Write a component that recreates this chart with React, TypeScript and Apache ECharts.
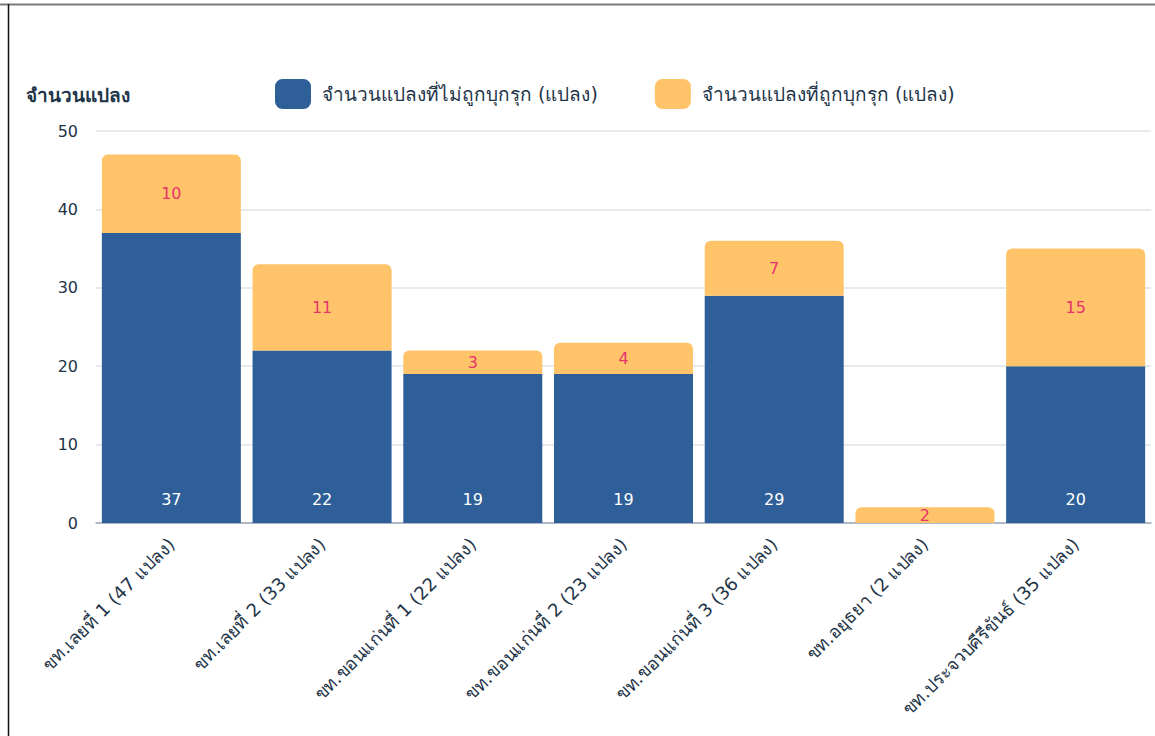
import React, { useEffect, useRef } from "react";
import * as echarts from "echarts";

const categories = [
  "ขท.เลยที่ 1 (47 แปลง)",
  "ขท.เลยที่ 2 (33 แปลง)",
  "ขท.ขอนแก่นที่ 1 (22 แปลง)",
  "ขท.ขอนแก่นที่ 2 (23 แปลง)",
  "ขท.ขอนแก่นที่ 3 (36 แปลง)",
  "ขท.อยุธยา (2 แปลง)",
  "ขท.ประจวบคีรีขันธ์ (35 แปลง)",
];
const notEncroached = [37, 22, 19, 19, 29, 0, 20];
const encroached = [10, 11, 3, 4, 7, 2, 15];
const seriesNames = ["จำนวนแปลงที่ไม่ถูกบุกรุก (แปลง)", "จำนวนแปลงที่ถูกบุกรุก (แปลง)"];
const yAxisTitle = "จำนวนแปลง";

const FONT = "'DejaVu Sans', sans-serif";
const TEXT = "#1e3448";

export default function App() {
  const ref = useRef<HTMLDivElement>(null);
  useEffect(() => {
    if (!ref.current) return;
    const chart = echarts.init(ref.current, undefined, { renderer: "svg" });
    chart.setOption({
      animation: false,
      textStyle: { fontFamily: FONT },
      title: {
        text: yAxisTitle,
        left: 21,
        top: 80,
        textStyle: { fontSize: 19, fontWeight: "bold", color: TEXT, fontFamily: FONT },
      },
      legend: {
        left: 270,
        top: 74,
        itemWidth: 36,
        itemHeight: 30,
        itemGap: 57,
        icon: "roundRect",
        textStyle: { fontSize: 19, color: TEXT, fontFamily: FONT, padding: [0, 0, 0, 6] },
        data: seriesNames,
      },
      grid: { left: 96, right: 4, top: 131, bottom: 213, containLabel: false },
      xAxis: {
        type: "category",
        data: categories,
        axisTick: { show: false },
        axisLine: { lineStyle: { color: "#9aa8b8", width: 1.5 } },
        axisLabel: {
          rotate: 45,
          interval: 0,
          margin: 18,
          fontSize: 18,
          color: TEXT,
          fontFamily: FONT,
        },
      },
      yAxis: {
        type: "value",
        min: 0,
        max: 50,
        interval: 10,
        axisLine: { show: false },
        axisTick: { show: false },
        axisLabel: { fontSize: 16, color: TEXT, margin: 18, fontFamily: FONT },
        splitLine: { lineStyle: { color: "#dde3ea", width: 1.5 } },
      },
      series: [
        {
          name: seriesNames[0],
          type: "bar",
          stack: "total",
          barWidth: 139,
          data: notEncroached,
          itemStyle: { color: "#2f5f98" },
          label: {
            show: true,
            position: "insideBottom",
            distance: 16,
            fontSize: 16,
            color: "#ffffff",
            fontFamily: FONT,
            formatter: (p: any) => (p.value ? String(p.value) : ""),
          },
        },
        {
          name: seriesNames[1],
          type: "bar",
          stack: "total",
          barWidth: 139,
          data: encroached,
          itemStyle: { color: "#ffc469", borderRadius: [6, 6, 0, 0] },
          label: {
            show: true,
            position: "inside",
            fontSize: 16,
            color: "#e8336b",
            fontFamily: FONT,
          },
        },
      ],
      graphic: [
        {
          type: "line",
          shape: { x1: 0, y1: 4.5, x2: 1155, y2: 4.5 },
          style: { stroke: "#7a7a7a", lineWidth: 2 },
        },
        {
          type: "line",
          shape: { x1: 8.5, y1: 4, x2: 8.5, y2: 736 },
          style: { stroke: "#111111", lineWidth: 1.5 },
        },
      ],
    });
    return () => chart.dispose();
  }, []);
  return (
    <div
      ref={ref}
      style={{ position: "absolute", left: 0, top: 0, width: 1155, height: 736, background: "#fff" }}
    />
  );
}
